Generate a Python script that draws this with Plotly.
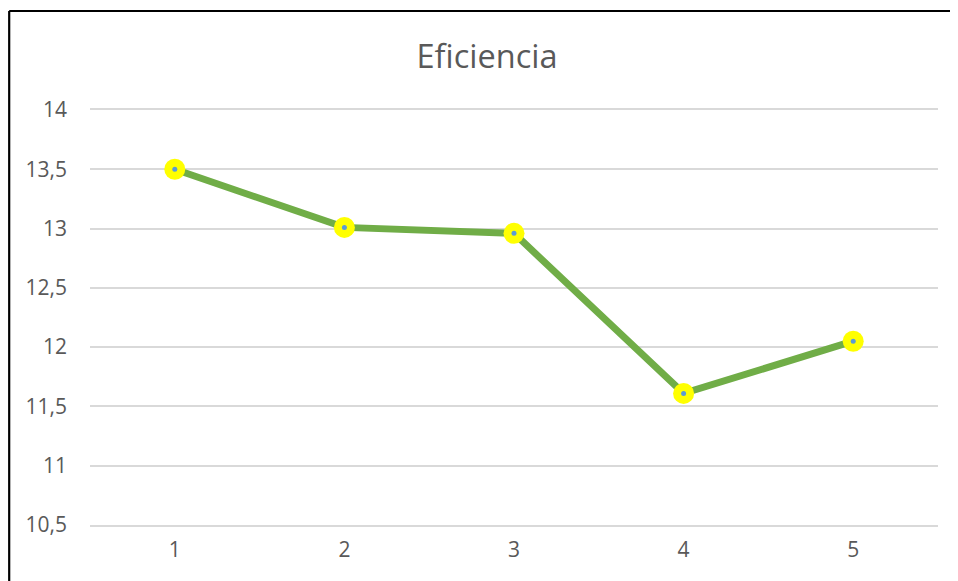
import plotly.graph_objects as go

categories = ["1", "2", "3", "4", "5"]
eficiencia = [13.5, 13.01, 12.96, 11.61, 12.05]
y_tick_vals = [10.5, 11, 11.5, 12, 12.5, 13, 13.5, 14]
y_tick_text = ["10,5", "11", "11,5", "12", "12,5", "13", "13,5", "14"]

W, H = 950, 573
ML, MR, MT, MB = 82, 20, 102, 56
pw, ph = W - ML - MR, H - MT - MB

fig = go.Figure()
fig.add_trace(go.Scatter(
    x=categories, y=eficiencia, mode="lines+markers",
    line=dict(color="#70AD47", width=7),
    marker=dict(size=21, color="#FFFF00", line=dict(width=0)),
    showlegend=False, hoverinfo="skip"))
fig.add_trace(go.Scatter(
    x=categories, y=eficiencia, mode="markers",
    marker=dict(size=5, color="#5B9BD5", line=dict(width=0)),
    showlegend=False))

# border (top & left visible)
bx0 = (1.2 - ML) / pw
bx1 = (W + 5 - ML) / pw
by_top = 1 + (MT - 3) / ph
by_bot = -(MB + 5) / ph
fig.add_shape(type="line", xref="paper", yref="paper", x0=bx0, x1=bx1,
              y0=by_top, y1=by_top, line=dict(color="black", width=2.2))
fig.add_shape(type="line", xref="paper", yref="paper", x0=bx0, x1=bx0,
              y0=by_bot, y1=by_top, line=dict(color="black", width=2.2))

fig.update_layout(
    width=W, height=H,
    margin=dict(l=ML, r=MR, t=MT, b=MB),
    paper_bgcolor="white", plot_bgcolor="white",
    font=dict(family="Open Sans", color="#595959", size=21),
    title=dict(text="Eficiencia", x=(479 - ML) / pw, xref="paper", xanchor="center",
               y=(H - 49) / H, yanchor="middle",
               font=dict(size=32.5, color="#595959", family="Open Sans")),
    xaxis=dict(type="category", showgrid=False, zeroline=False,
               showline=True, mirror=True, linecolor="#D9D9D9", linewidth=1.5,
               ticks="", ticklabelstandoff=5, range=[-0.5, 4.5]),
    yaxis=dict(range=[10.5, 14], tickvals=y_tick_vals, ticktext=y_tick_text,
               showgrid=True, gridcolor="#D9D9D9", gridwidth=1.5,
               zeroline=False, showline=False, ticks="", ticklabelstandoff=22),
)

fig.write_html("out.html")
